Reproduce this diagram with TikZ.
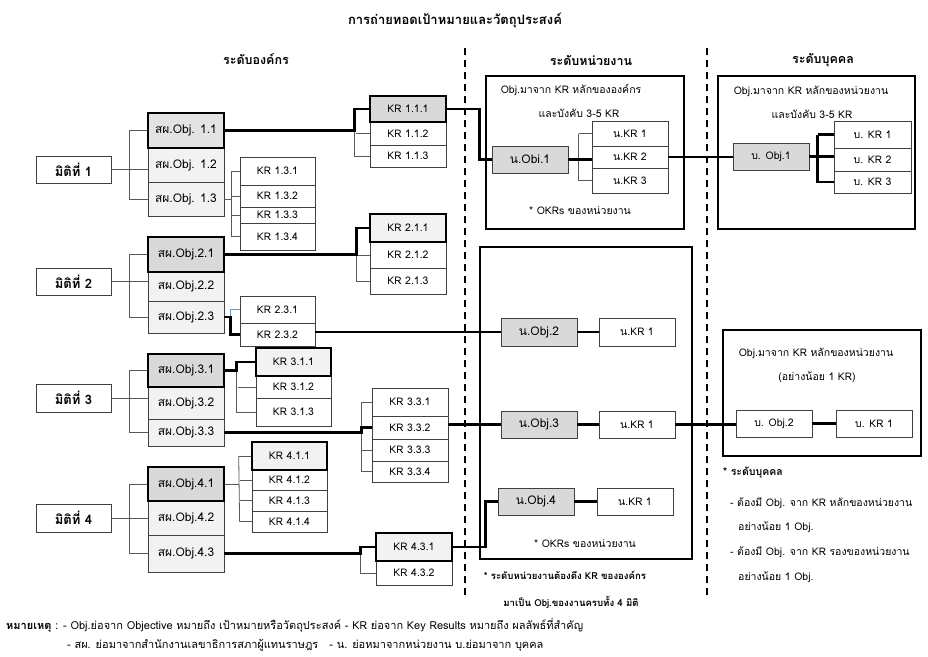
\documentclass[tikz,border=0pt]{standalone}
\usepackage{fontspec}
\setmainfont[Script=Thai]{Loma}
\usetikzlibrary{calc}
\definecolor{gA}{HTML}{D9D9D9}
\definecolor{gB}{HTML}{F2F2F2}
\definecolor{gE}{HTML}{E3E3E3}
\definecolor{ln}{HTML}{595959}
\definecolor{bl}{HTML}{5B9BD5}
\newcommand\fs{\fontsize{10.5}{12}\selectfont}
\newcommand\fsm{\fontsize{11}{13}\selectfont}
\newcommand\fsb{\fontsize{12.5}{14}\selectfont}
\newcommand\fst{\fontsize{13}{15}\selectfont}
\newcommand\fso{\fontsize{12}{14}\selectfont}
\newcommand\fsd{\fontsize{13}{15}\selectfont}
\newcommand\fsn{\fontsize{12}{14}\selectfont}
\newcommand\fsu{\fontsize{9.6}{11}\selectfont}
\newcommand\bxn[7]{\node[#6, minimum width=#4pt, minimum height=#5pt] (#1) at (#2,#3) {#7};}
\tikzset{
  bx/.style={draw=black!75, line width=0.8pt, inner sep=0pt, font=\fs, fill=white},
  tb/.style={draw=black, line width=2.6pt, inner sep=0pt, font=\fs},
  frame/.style={draw=black, line width=2.6pt, inner sep=0pt},
  thk/.style={line width=2.6pt, black},
  thn/.style={line width=0.8pt, ln},
  txt/.style={inner sep=0pt, font=\fs},
  note/.style={inner sep=0pt, font=\fs, anchor=west},
  dashline/.style={line width=1.6pt, dash pattern=on 7pt off 5pt},
}
\begin{document}
\begin{tikzpicture}[x=1pt,y=-1pt]
\useasboundingbox (0,0) rectangle (928,656);
% titles
\node[txt, font=\fst\bfseries] (title) at (455,20) {การถ่ายทอดเป้าหมายและวัตถุประสงค์};
\node[txt, font=\fsb\bfseries] (h1) at (256,59) {ระดับองค์กร};
\node[txt, font=\fsb\bfseries] (h2) at (591,60) {ระดับหน่วยงาน};
\node[txt, font=\fsb\bfseries] (h3) at (823,60) {ระดับบุคคล};
% dividers
\draw[dashline] (465,48) -- (465,597);
\draw[dashline] (707,48) -- (707,597);
% frames
\bxn{ub1}{585}{152.5}{198}{153}{frame}{}
\bxn{pb1}{816.5}{152.5}{197}{153}{frame}{}
\bxn{ub2}{586}{403}{212}{312}{frame}{}
\bxn{pb2}{822}{393}{198}{126}{frame}{}
% dimension boxes
\bxn{d1}{73.5}{169.5}{75}{27}{bx, font=\fsd\bfseries}{มิติที่ 1}
\bxn{d2}{73.5}{281.5}{75}{27}{bx, font=\fsd\bfseries}{มิติที่ 2}
\bxn{d3}{73.5}{398}{75}{28}{bx, font=\fsd\bfseries}{มิติที่ 3}
\bxn{d4}{73.5}{518}{75}{28}{bx, font=\fsd\bfseries}{มิติที่ 4}
% objectives (thin)
\bxn{o12}{186}{165}{76}{34}{bx, fill=gB, font=\fso}{สผ.Obj. 1.2}
\bxn{o13}{186}{199}{76}{34}{bx, fill=gB, font=\fso}{สผ.Obj. 1.3}
\bxn{o22}{186}{286.5}{76}{29}{bx, fill=gB, font=\fso}{สผ.Obj.2.2}
\bxn{o23}{186}{317}{76}{32}{bx, fill=gB, font=\fso}{สผ.Obj.2.3}
\bxn{o32}{186}{403}{76}{32}{bx, fill=gB, font=\fso}{สผ.Obj.3.2}
\bxn{o33}{186}{432.5}{76}{27}{bx, fill=gB, font=\fso}{สผ.Obj.3.3}
\bxn{o42}{186}{518}{76}{34}{bx, fill=gB, font=\fso}{สผ.Obj.4.2}
\bxn{o43}{186}{553.5}{76}{37}{bx, fill=gB, font=\fso}{สผ.Obj.4.3}
% objectives (thick)
\bxn{o11}{186}{130.5}{76}{35}{tb, fill=gE, font=\fso}{สผ.Obj. 1.1}
\bxn{o21}{186}{254.5}{76}{35}{tb, fill=gA, font=\fso}{สผ.Obj.2.1}
\bxn{o31}{186}{370.5}{76}{33}{tb, fill=gA, font=\fso}{สผ.Obj.3.1}
\bxn{o41}{186}{484}{76}{34}{tb, fill=gA, font=\fso}{สผ.Obj.4.1}
% KR 1.1
\bxn{k112}{408}{133.5}{76}{23}{bx}{KR 1.1.2}
\bxn{k113}{408}{156}{76}{22}{bx}{KR 1.1.3}
\bxn{k111}{408}{109}{76}{26}{tb, fill=gA}{KR 1.1.1}
% KR 1.3
\bxn{k131}{277.5}{171}{75}{28}{bx}{KR 1.3.1}
\bxn{k132}{277.5}{196}{75}{22}{bx}{KR 1.3.2}
\bxn{k133}{277.5}{215}{75}{16}{bx}{KR 1.3.3}
\bxn{k134}{277.5}{236.5}{75}{27}{bx}{KR 1.3.4}
% KR 2.1
\bxn{k212}{408}{255}{76}{26}{bx}{KR 2.1.2}
\bxn{k213}{408}{281}{76}{26}{bx}{KR 2.1.3}
\bxn{k211}{408}{228}{76}{28}{tb, fill=gB}{KR 2.1.1}
% KR 2.3
\bxn{k231}{277.5}{309.5}{75}{27}{bx}{KR 2.3.1}
\bxn{k232}{277.5}{334.5}{75}{23}{bx}{KR 2.3.2}
% KR 3.1
\bxn{k312}{293.5}{387}{75}{22}{bx}{KR 3.1.2}
\bxn{k313}{293.5}{412}{75}{28}{bx}{KR 3.1.3}
\bxn{k311}{293.5}{362}{75}{28}{tb, fill=gB}{KR 3.1.1}
% KR 3.3
\bxn{k331}{410}{402}{76}{28}{bx}{KR 3.3.1}
\bxn{k332}{410}{427.5}{76}{23}{bx}{KR 3.3.2}
\bxn{k333}{410}{450}{76}{22}{bx}{KR 3.3.3}
\bxn{k334}{410}{471.5}{76}{21}{bx}{KR 3.3.4}
% KR 4.1
\bxn{k412}{289.5}{480}{75}{20}{bx}{KR 4.1.2}
\bxn{k413}{289.5}{500.5}{75}{21}{bx}{KR 4.1.3}
\bxn{k414}{289.5}{521.5}{75}{21}{bx}{KR 4.1.4}
\bxn{k411}{289.5}{456}{75}{28}{tb, fill=gB}{KR 4.1.1}
% KR 4.3
\bxn{k432}{414}{573}{76}{24}{bx}{KR 4.3.2}
\bxn{k431}{414}{547}{76}{28}{tb, fill=gB}{KR 4.3.1}
% unit box 1
\node[txt] (u1a) at (571,90) {Obj.มาจาก KR หลักขององค์กร};
\node[txt] (u1b) at (579,113) {และบังคับ 3-5 KR};
\node[txt] (u1c) at (580,210) {* OKRs ของหน่วยงาน};
\bxn{no1}{530}{159.5}{76}{27}{bx, fill=gA, font=\fsn}{น.Obi.1}
\bxn{nk1}{630}{133.5}{76}{25}{bx}{น.KR 1}
\bxn{nk2}{630}{157}{76}{22}{bx}{น.KR 2}
\bxn{nk3}{630}{180.5}{76}{25}{bx}{น.KR 3}
% person box 1
\node[txt] (p1a) at (811,91) {Obj.มาจาก KR หลักของหน่วยงาน};
\node[txt] (p1b) at (812,114) {และบังคับ 3-5 KR};
\bxn{bo1}{771}{156.5}{76}{27}{bx, fill=gA}{บ. Obj.1}
\bxn{bk1}{872.5}{134.5}{77}{27}{bx}{บ. KR 1}
\bxn{bk2}{872.5}{159.5}{77}{23}{bx}{บ. KR 2}
\bxn{bk3}{872.5}{182}{77}{22}{bx}{บ. KR 3}
% unit box 2
\bxn{no2}{539}{332}{76}{28}{bx, fill=gA, font=\fsn}{น.Obj.2}
\bxn{nk21}{637}{332}{76}{28}{bx}{น.KR 1}
\bxn{no3}{539}{424.5}{76}{27}{bx, fill=gA, font=\fsn}{น.Obj.3}
\bxn{nk31}{637}{424.5}{76}{27}{bx}{น.KR 1}
\bxn{no4}{536}{501.5}{76}{27}{bx, fill=gA, font=\fsn}{น.Obj.4}
\bxn{nk41}{635}{501.5}{76}{27}{bx}{น.KR 1}
\node[txt] (u2c) at (585,543) {* OKRs ของหน่วยงาน};
\node[txt, font=\fsu\bfseries] (u2d) at (565,575) {* ระดับหน่วยงานต้องดึง KR ขององค์กร};
\node[txt, font=\fsu\bfseries] (u2e) at (571,602) {มาเป็น Obj.ของงานครบทั้ง 4 มิติ};
% person box 2
\node[txt] (p2a) at (816,353) {Obj.มาจาก KR หลักของหน่วยงาน};
\node[txt] (p2b) at (817,377) {(อย่างน้อย 1 KR)};
\bxn{bo2}{774}{423.5}{76}{27}{bx}{บ. Obj.2}
\bxn{bk21}{874}{423.5}{76}{27}{bx}{บ. KR 1}
% right notes
\node[note, font=\fs\bfseries] (r1) at (723,473) {* ระดับบุคคล};
\node[note] (r2) at (730,503) {- ต้องมี Obj. จาก KR หลักของหน่วยงาน};
\node[note] (r3) at (738,527) {อย่างน้อย 1 Obj.};
\node[note] (r4) at (730,552) {- ต้องมี Obj. จาก KR รองของหน่วยงาน};
\node[note] (r5) at (738,577) {อย่างน้อย 1 Obj.};
% footnotes
\node[note, font=\fsm] (f1) at (6,625) {\textbf{หมายเหตุ} : - Obj.ย่อจาก Objective หมายถึง เป้าหมายหรือวัตถุประสงค์ - KR ย่อจาก Key Results หมายถึง ผลลัพธ์ที่สำคัญ};
\node[note, font=\fsm] (f2) at (67,645) {- สผ. ย่อมาจากสำนักงานเลขาธิการสภาผู้แทนราษฎร\quad - น. ย่อหมาจากหน่วยงาน บ.ย่อมาจาก บุคคล};

% ---- connectors: dimensions to objectives
\foreach \d/\a/\m/\b in {d1/o11/o12/o13, d2/o21/o22/o23, d3/o31/o32/o33, d4/o41/o42/o43}{
  \draw[thn] (\a.west) -- ++(-17,0) |- (\b.west);
  \draw[thn] (\d.east) -- (\d.east -| \m.west);
}
% obj 1.1 -> KR 1.1.x
\draw[thn] ([xshift=-14pt]k111.west |- o11.east) |- (k113.west);
\draw[thn] ([xshift=-14pt]k112.west) -- (k112.west);
\draw[thk] (o11.east) -| ([xshift=-14pt]k111.west) -- (k111.west);
% obj 1.3 -> KR 1.3.x
\draw[thn] (o13.east) -- ++(8,0);
\draw[thn] ([xshift=-8pt]k131.west) -- ([xshift=-8pt]k134.west);
\foreach \k in {k131,k132,k133,k134}{\draw[thn] ([xshift=-8pt]\k.west) -- (\k.west);}
% obj 2.1 -> KR 2.1.x
\draw[thn] ([xshift=-12pt]k211.west |- o21.east) |- (k213.west);
\draw[thn] ([xshift=-12pt]k212.west) -- (k212.west);
\draw[thk] (o21.east) -| ([xshift=-12pt]k211.west) -- (k211.west);
% obj 2.3 -> KR 2.3.x
\draw[thn, bl] ([xshift=6pt]o23.east) |- (k231.west);
\draw[thk] (o23.east) -- ++(6,0) |- (k232.west);
% obj 3.1 -> KR 3.1.x
\draw[thn] ([xshift=-18pt]k311.west |- o31.east) |- (k313.west);
\draw[thn] ([xshift=-18pt]k312.west) -- (k312.west);
\draw[thk] (o31.east) -| ([xshift=-18pt]k311.west) -- (k311.west);
% obj 3.3 -> KR 3.3.x
\draw[thn] ([xshift=-10pt]k331.west) -- ([xshift=-10pt]k334.west);
\foreach \k in {k331,k333,k334}{\draw[thn] ([xshift=-10pt]\k.west) -- (\k.west);}
\draw[thk] (o33.east) -| ([xshift=-10pt]k332.west) -- (k332.west);
% obj 4.1 -> KR 4.1.x
\draw[thn] (o41.east) -- ([xshift=-12pt]k411.west |- o41.east);
\draw[thn] ([xshift=-12pt]k411.west) -- ([xshift=-12pt]k414.west);
\foreach \k in {k411,k412,k413,k414}{\draw[thn] ([xshift=-12pt]\k.west) -- (\k.west);}
% obj 4.3 -> KR 4.3.x
\draw[thn] ([xshift=-14pt]k431.west |- o43.east) |- (k432.west);
\draw[thk] (o43.east) -| ([xshift=-14pt]k431.west) -- (k431.west);
% organisation KR -> unit objectives
\draw[thk] (k111.east) -| ([xshift=-12pt]no1.west) -- (no1.west);
\draw[thk] (k232.east |- no2.west) -- (no2.west);
\draw[thk] (k332.east |- no3.west) -- (no3.west);
\draw[thk] (k431.east) -| ([xshift=-12pt]no4.west) -- (no4.west);
% unit OKRs
\draw[thn] ([xshift=-13pt]nk1.west) -- (nk1.west);
\draw[thn] ([xshift=-13pt]nk1.west) -- ([xshift=-13pt]nk3.west) -- (nk3.west);
\draw[thk] (no1.east) -- (no1.east -| nk2.west);
\draw[thk] (no2.east) -- (nk21.west);
\draw[thk] (no3.east) -- (nk31.west);
\draw[thk] (no4.east) -- (nk41.west);
% unit KR -> person objectives
\draw[thk] (nk2.east) -- (nk2.east -| bo1.west);
\draw[thk] (nk31.east) -- (nk31.east -| bo2.west);
% person OKRs
\draw[thk] (bo1.east) -- (bo1.east -| bk2.west);
\draw[thk] ([xshift=-16pt]bk1.west) -- (bk1.west);
\draw[thk] ([xshift=-16pt]bk1.west) -- ([xshift=-16pt]bk3.west) -- (bk3.west);
\draw[thk] (bo2.east) -- (bk21.west);
\end{tikzpicture}
\end{document}
